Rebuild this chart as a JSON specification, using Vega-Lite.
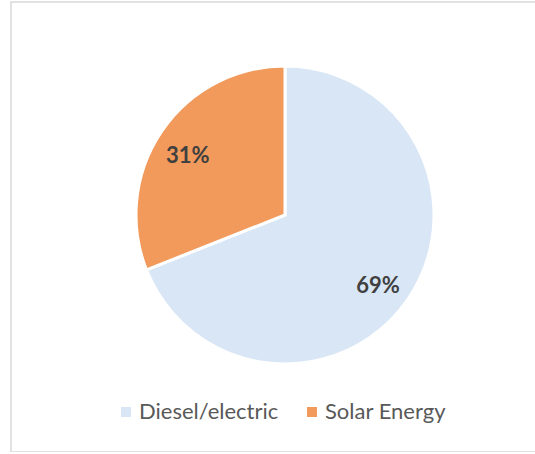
{
  "$schema": "https://vega.github.io/schema/vega-lite/v6.json",
  "autosize": "none",
  "padding": {"left": 11, "top": 2, "right": 0, "bottom": 0},
  "width": 548,
  "height": 450,
  "background": "white",
  "view": {"stroke": "#d9d9d9", "strokeWidth": 1.5},
  "data": {"values": [
    {"source": "Diesel/electric", "share": 69, "label": "69%", "order": 1},
    {"source": "Solar Energy", "share": 31, "label": "31%", "order": 2}
  ]},
  "encoding": {
    "theta": {"field": "share", "type": "quantitative", "stack": true},
    "order": {"field": "order", "type": "quantitative"},
    "color": {
      "field": "source", "type": "nominal",
      "scale": {"domain": ["Diesel/electric", "Solar Energy"], "range": ["#d9e6f5", "#f19a5b"]},
      "legend": {
        "title": null, "orient": "none", "legendX": 104, "legendY": 399, "direction": "horizontal",
        "symbolType": "square", "symbolSize": 100, "symbolStrokeWidth": 0,
        "labelFont": "Lato", "labelFontSize": 22, "labelColor": "#595959",
        "columnPadding": 22, "labelOffset": 2
      }
    }
  },
  "layer": [
    {"mark": {"type": "arc", "outerRadius": 149, "stroke": "white", "strokeWidth": 3, "yOffset": -12}},
    {"mark": {"type": "text", "radius": 115, "yOffset": -6, "xOffset": -2, "font": "Lato", "fontSize": 22, "fontWeight": "bold"},
     "encoding": {"text": {"field": "label", "type": "nominal"}, "color": {"value": "#404040"}}}
  ]
}
